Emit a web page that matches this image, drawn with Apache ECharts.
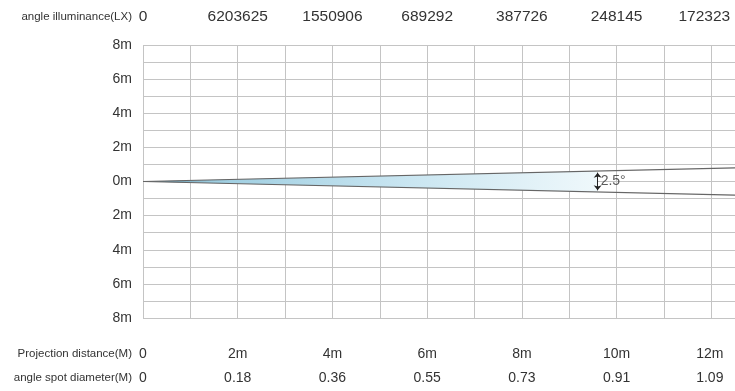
<!DOCTYPE html>
<html>
<head>
<meta charset="utf-8">
<script src="https://cdn.jsdelivr.net/npm/echarts@6/dist/echarts.min.js"></script>
<style>
  html, body { margin: 0; padding: 0; background: #fff; }
  #main { width: 735px; height: 391px; }
</style>
</head>
<body>
<div id="main"></div>
<script>
// values at 0, 2, 4 ... 12 m
const illuminance = ['0', '6203625', '1550906', '689292', '387726', '248145', '172323']
const distance = ['0', '2m', '4m', '6m', '8m', '10m', '12m']
const diameter = ['0', '0.18', '0.36', '0.55', '0.73', '0.91', '1.09']

// beam edges (x in m, y in m)
const beamTop = [[0, 0], [12.5, 0.8]]
const beamBottom = [[0, 0], [12.5, -0.8]]
// shaded part of the beam
const beamFill = [[0, 0], [9.6, 0.61], [9.6, -0.61]]
// angle marker
const angleMark = { x: 9.6, half: 0.52, text: '2.5°' }

const font = 'Liberation Sans, Arial, sans-serif'
const textColor = '#333'

const chart = echarts.init(document.getElementById('main'))

// label for even metres; the last one is nudged left so it stays inside the page
function evenLabel(list) {
    return v => {
        if (v % 2 !== 0 || list[v / 2] === undefined) return ''
        return v / 2 === list.length - 1 ? '{last|' + list[v / 2] + '}' : list[v / 2]
    }
}

function labelAxis(position, offset, name, list, size, lastShift) {
    return {
        type: 'value',
        position: position,
        offset: offset,
        min: 0,
        max: 12.5,
        interval: 1,
        name: name,
        nameLocation: 'start',
        nameGap: 11,
        nameTextStyle: { color: textColor, fontSize: 11.5, fontFamily: font, align: 'right', verticalAlign: 'middle' },
        axisLine: { show: false },
        axisTick: { show: false },
        splitLine: { show: false },
        axisLabel: {
            margin: 0,
            verticalAlign: 'middle',
            color: textColor,
            fontSize: size,
            fontFamily: font,
            formatter: evenLabel(list),
            rich: {
                last: {
                    color: textColor,
                    fontSize: size,
                    fontFamily: font,
                    padding: [0, lastShift, 0, 0]
                }
            }
        }
    }
}

const option = {
    animation: false,
    grid: { left: 143, right: 0, top: 45, bottom: 73, outerBoundsMode: 'none', containLabel: false },
    xAxis: [
        {
            type: 'value',
            min: 0,
            max: 12.5,
            interval: 1,
            axisLine: { show: false },
            axisTick: { show: false },
            axisLabel: { show: false },
            splitLine: { showMaxLine: false, lineStyle: { color: '#c4c4c4', width: 1 } }
        },
        labelAxis('bottom', 36, 'Projection distance(M)', distance, 14, 3),
        labelAxis('bottom', 60, 'angle spot diameter(M)', diameter, 14, 3),
        labelAxis('top', 28, 'angle illuminance(LX)', illuminance, 15.5, 14)
    ],
    yAxis: {
        type: 'value',
        min: -8,
        max: 8,
        interval: 1,
        axisLine: { show: false },
        axisTick: { show: false },
        splitLine: { lineStyle: { color: '#c4c4c4', width: 1 } },
        axisLabel: {
            margin: 11,
            color: textColor,
            fontSize: 14,
            fontFamily: font,
            formatter: v => (v % 2 === 0 ? Math.abs(v) + 'm' : '')
        }
    },
    series: [
        {
            type: 'custom',
            silent: true,
            data: [0],
            renderItem: (params, api) => {
                const pts = beamFill.map(p => api.coord(p))
                return {
                    type: 'polygon',
                    shape: { points: pts },
                    style: {
                        fill: new echarts.graphic.LinearGradient(0, 0, 1, 0, [
                            { offset: 0, color: '#4f7f94' },
                            { offset: 0.15, color: '#9dcde0' },
                            { offset: 0.55, color: '#c6e4f0' },
                            { offset: 1, color: '#eff8fb' }
                        ])
                    }
                }
            },
            z: 1
        },
        {
            type: 'line',
            data: beamTop,
            symbol: 'none',
            lineStyle: { color: '#666', width: 1.2 },
            z: 3
        },
        {
            type: 'line',
            data: beamBottom,
            symbol: 'none',
            lineStyle: { color: '#666', width: 1.2 },
            z: 3
        },
        {
            type: 'scatter',
            data: [[angleMark.x, 0]],
            symbolSize: 0,
            silent: true,
            label: {
                show: true,
                position: 'right',
                distance: 3,
                formatter: angleMark.text,
                color: textColor,
                fontSize: 14,
                fontFamily: font
            },
            markLine: {
                silent: true,
                symbol: ['arrow', 'arrow'],
                symbolSize: [6, 5],
                label: { show: false },
                lineStyle: { color: '#222', width: 1, type: 'solid' },
                data: [[
                    { coord: [angleMark.x, angleMark.half] },
                    { coord: [angleMark.x, -angleMark.half] }
                ]]
            },
            z: 4
        }
    ]
}

chart.setOption(option)
</script>
</body>
</html>
